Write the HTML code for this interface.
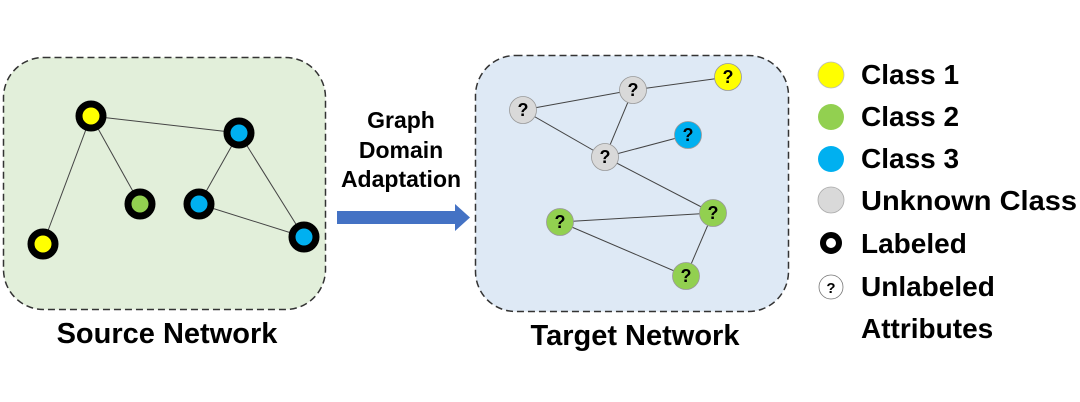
<!DOCTYPE html>
<html><head><meta charset="utf-8"><style>
html,body{margin:0;padding:0;background:#fff;width:1080px;height:402px;overflow:hidden}
</style></head><body>
<svg width="1080" height="402" viewBox="0 0 1080 402" xmlns="http://www.w3.org/2000/svg" font-family="Liberation Sans, Arial, sans-serif" font-weight="bold">
<rect x="3.5" y="57.5" width="322" height="252" rx="40" fill="#e2efda" stroke="#333" stroke-width="1.5" stroke-dasharray="7,4"/>
<rect x="475.5" y="55.5" width="313" height="256" rx="40" fill="#dee9f5" stroke="#333" stroke-width="1.5" stroke-dasharray="7,4"/>
<g stroke="#444" stroke-width="1">
<line x1="91" y1="116" x2="239" y2="133"/><line x1="91" y1="116" x2="43" y2="244"/><line x1="91" y1="116" x2="140" y2="204"/>
<line x1="239" y1="133" x2="199" y2="204"/><line x1="239" y1="133" x2="304" y2="237"/><line x1="199" y1="204" x2="304" y2="237"/>
<line x1="523" y1="110" x2="633" y2="90"/><line x1="633" y1="90" x2="728" y2="77"/><line x1="633" y1="90" x2="605" y2="157"/>
<line x1="523" y1="110" x2="605" y2="157"/><line x1="605" y1="157" x2="688" y2="135"/><line x1="605" y1="157" x2="713" y2="213"/>
<line x1="560" y1="222" x2="713" y2="213"/><line x1="713" y1="213" x2="686" y2="276"/><line x1="560" y1="222" x2="686" y2="276"/>
</g>
<g stroke="#000" stroke-width="7">
<circle cx="91" cy="116" r="12" fill="#ffff00"/><circle cx="239" cy="133" r="12" fill="#00b0f0"/>
<circle cx="140" cy="204" r="12" fill="#92d050"/><circle cx="199" cy="204" r="12" fill="#00b0f0"/>
<circle cx="43" cy="244" r="12" fill="#ffff00"/><circle cx="304" cy="237" r="12" fill="#00b0f0"/>
</g>
<g stroke="#999" stroke-width="0.8">
<circle cx="523" cy="110" r="13.5" fill="#d9d9d9"/><circle cx="633" cy="90" r="13.5" fill="#d9d9d9"/>
<circle cx="728" cy="77" r="13.5" fill="#ffff00"/><circle cx="605" cy="157" r="13.5" fill="#d9d9d9"/>
<circle cx="688" cy="135" r="13.5" fill="#00b0f0"/><circle cx="713" cy="213" r="13.5" fill="#92d050"/>
<circle cx="560" cy="222" r="13.5" fill="#92d050"/><circle cx="686" cy="276" r="13.5" fill="#92d050"/>
</g>
<g font-size="18" text-anchor="middle" fill="#000">
<text x="523" y="116">?</text><text x="633" y="96">?</text><text x="728" y="83">?</text><text x="605" y="163">?</text>
<text x="688" y="141">?</text><text x="713" y="219">?</text><text x="560" y="228">?</text><text x="686" y="282">?</text>
</g>
<polygon points="337,211 455,211 455,204 470,217.5 455,231 455,224 337,224" fill="#4472c4"/>
<g font-size="23" text-anchor="middle" fill="#000">
<text x="401" y="128">Graph</text><text x="401" y="158">Domain</text><text x="401" y="187">Adaptation</text>
</g>
<text x="167" y="343" font-size="29" text-anchor="middle">Source Network</text>
<text x="635" y="345" font-size="29" text-anchor="middle">Target Network</text>
<circle cx="831" cy="75" r="13" fill="#ffff00" stroke="#bbb" stroke-width="0.8"/>
<circle cx="831" cy="117" r="13" fill="#92d050"/>
<circle cx="831" cy="159" r="13" fill="#00b0f0"/>
<circle cx="831" cy="200" r="13" fill="#d9d9d9" stroke="#aaa" stroke-width="0.8"/>
<circle cx="831" cy="243" r="8" fill="#fff" stroke="#000" stroke-width="6"/>
<circle cx="831" cy="287" r="12" fill="#fff" stroke="#777" stroke-width="0.8"/>
<text x="831" y="293" font-size="15" text-anchor="middle">?</text>
<g font-size="28" fill="#000">
<text x="861" y="84">Class 1</text><text x="861" y="126">Class 2</text><text x="861" y="168">Class 3</text>
<text x="861" y="210" textLength="216" lengthAdjust="spacingAndGlyphs">Unknown Class</text>
<text x="861" y="253">Labeled</text><text x="861" y="296">Unlabeled</text><text x="861" y="338">Attributes</text>
</g>
</svg>
</body></html>
